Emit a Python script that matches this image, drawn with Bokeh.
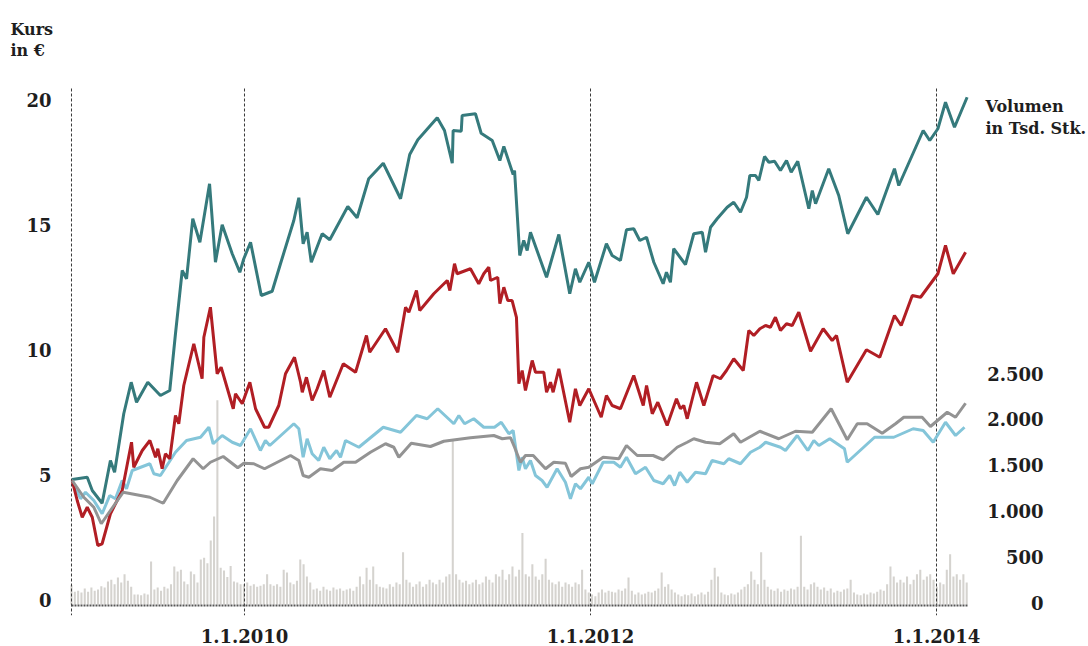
from bokeh.plotting import figure
from bokeh.models import Range1d, FixedTicker
from bokeh.core.properties import value
from bokeh.embed import file_html
from bokeh.resources import INLINE

# ---------------- data (x in decimal years, prices in EUR) ----------------
teal_t = [2009.004, 2009.091, 2009.120, 2009.177, 2009.225, 2009.249, 2009.302, 2009.345, 2009.376, 2009.441,
          2009.514, 2009.568, 2009.601, 2009.640, 2009.665, 2009.701, 2009.742, 2009.798, 2009.832, 2009.871,
          2009.929, 2009.973, 2009.996, 2010.035, 2010.097, 2010.160, 2010.208, 2010.285, 2010.314, 2010.339,
          2010.362, 2010.386, 2010.449, 2010.493, 2010.597, 2010.651, 2010.718, 2010.802, 2010.902, 2010.955,
          2011.002, 2011.114, 2011.156, 2011.201, 2011.206, 2011.253, 2011.258, 2011.335, 2011.368, 2011.432,
          2011.476, 2011.499, 2011.553, 2011.561, 2011.591, 2011.614, 2011.634, 2011.653, 2011.746, 2011.817,
          2011.880, 2011.913, 2011.938, 2011.990, 2012.023, 2012.092, 2012.125, 2012.173, 2012.208, 2012.250,
          2012.285, 2012.324, 2012.366, 2012.420, 2012.439, 2012.462, 2012.481, 2012.549, 2012.597, 2012.646,
          2012.665, 2012.694, 2012.732, 2012.790, 2012.828, 2012.867, 2012.902, 2012.921, 2012.954, 2012.973,
          2013.006, 2013.031, 2013.064, 2013.098, 2013.133, 2013.160, 2013.198, 2013.262, 2013.282, 2013.301,
          2013.377, 2013.435, 2013.487, 2013.595, 2013.661, 2013.757, 2013.782, 2013.923, 2013.961, 2014.008,
          2014.052, 2014.104, 2014.177]
teal_v = [4.80, 4.89, 4.36, 3.85, 5.56, 5.09, 7.43, 8.69, 7.89, 8.69,
          8.16, 8.36, 10.63, 13.16, 12.83, 15.23, 14.29, 16.63, 13.49, 14.99,
          13.83, 13.09, 13.63, 14.29, 12.16, 12.33, 13.43, 15.16, 16.07, 14.23,
          14.69, 13.49, 14.63, 14.39, 15.72, 15.27, 16.83, 17.45, 16.03, 17.80,
          18.39, 19.27, 18.76, 17.45, 18.76, 18.73, 19.36, 19.43, 18.65, 18.36,
          17.56, 18.12, 17.00, 17.16, 13.76, 14.36, 13.96, 14.69, 12.89, 14.60,
          12.23, 13.23, 12.69, 13.49, 12.69, 14.23, 13.76, 13.56, 14.79, 14.83,
          14.36, 14.49, 13.49, 12.63, 13.09, 12.69, 14.03, 13.40, 14.63, 14.69,
          13.89, 14.89, 15.23, 15.69, 15.89, 15.49, 16.09, 16.96, 16.96, 16.76,
          17.72, 17.49, 17.53, 17.16, 17.56, 17.09, 17.53, 15.63, 16.36, 15.83,
          17.23, 16.16, 14.63, 16.09, 15.40, 17.23, 16.56, 18.76, 18.36, 18.83,
          19.89, 18.89, 20.09]

red_t = [2009.004, 2009.033, 2009.062, 2009.091, 2009.120, 2009.152, 2009.177, 2009.225, 2009.293, 2009.347,
         2009.360, 2009.409, 2009.453, 2009.486, 2009.499, 2009.524, 2009.543, 2009.568, 2009.601, 2009.620,
         2009.649, 2009.707, 2009.755, 2009.765, 2009.803, 2009.842, 2009.865, 2009.935, 2009.948, 2009.987,
         2010.031, 2010.064, 2010.116, 2010.140, 2010.198, 2010.237, 2010.289, 2010.324, 2010.334, 2010.358,
         2010.391, 2010.420, 2010.458, 2010.493, 2010.571, 2010.642, 2010.705, 2010.724, 2010.815, 2010.886,
         2010.931, 2010.950, 2010.994, 2011.013, 2011.094, 2011.172, 2011.187, 2011.214, 2011.229, 2011.306,
         2011.354, 2011.383, 2011.412, 2011.422, 2011.464, 2011.476, 2011.499, 2011.522, 2011.547, 2011.572,
         2011.586, 2011.605, 2011.624, 2011.663, 2011.682, 2011.730, 2011.746, 2011.769, 2011.784, 2011.817,
         2011.880, 2011.913, 2011.938, 2011.990, 2012.062, 2012.092, 2012.125, 2012.173, 2012.250, 2012.305,
         2012.324, 2012.357, 2012.389, 2012.443, 2012.497, 2012.520, 2012.539, 2012.559, 2012.613, 2012.655,
         2012.709, 2012.751, 2012.786, 2012.828, 2012.883, 2012.915, 2012.944, 2012.979, 2013.012, 2013.040,
         2013.069, 2013.098, 2013.133, 2013.166, 2013.204, 2013.272, 2013.345, 2013.397, 2013.422, 2013.484,
         2013.595, 2013.672, 2013.757, 2013.796, 2013.860, 2013.908, 2014.008, 2014.052, 2014.097, 2014.168]
red_v = [4.76, 3.96, 3.29, 3.69, 3.29, 2.16, 2.23, 3.43, 4.36, 6.29,
         5.29, 5.96, 6.36, 5.69, 6.03, 5.23, 5.83, 5.63, 7.36, 7.03,
         8.56, 10.23, 8.83, 10.49, 11.69, 9.03, 9.29, 7.63, 8.23, 7.83,
         8.69, 7.63, 6.89, 6.89, 7.76, 9.03, 9.69, 8.69, 8.29, 8.89,
         7.96, 8.43, 9.16, 8.09, 9.43, 9.09, 10.56, 9.89, 10.83, 9.89,
         11.69, 11.49, 12.36, 11.56, 12.23, 12.76, 12.36, 13.43, 13.03, 13.23,
         12.63, 13.03, 13.29, 12.76, 12.89, 11.83, 12.49, 11.96, 11.96, 11.29,
         8.63, 9.16, 8.36, 9.56, 9.09, 9.09, 8.29, 8.69, 8.29, 9.23,
         7.09, 8.43, 7.76, 8.43, 7.29, 8.16, 7.76, 7.63, 8.96, 7.76,
         8.56, 7.43, 7.89, 6.96, 8.03, 7.63, 7.76, 7.23, 8.69, 7.76,
         8.96, 8.83, 9.16, 9.63, 9.16, 10.76, 10.56, 10.83, 10.96, 10.89,
         11.29, 10.76, 11.03, 10.96, 11.49, 9.93, 10.83, 10.36, 10.56, 8.69,
         9.99, 9.69, 11.36, 10.96, 12.16, 12.09, 13.03, 14.16, 13.03, 13.89]

blue_t = [2009.004, 2009.052, 2009.081, 2009.129, 2009.177, 2009.221, 2009.254, 2009.293, 2009.318, 2009.351,
          2009.453, 2009.476, 2009.514, 2009.601, 2009.665, 2009.746, 2009.794, 2009.819, 2009.871, 2009.929,
          2009.977, 2010.035, 2010.092, 2010.121, 2010.146, 2010.285, 2010.314, 2010.339, 2010.362, 2010.391,
          2010.429, 2010.458, 2010.493, 2010.532, 2010.555, 2010.584, 2010.661, 2010.802, 2010.902, 2010.994,
          2011.056, 2011.117, 2011.210, 2011.239, 2011.272, 2011.325, 2011.383, 2011.445, 2011.484, 2011.528,
          2011.553, 2011.586, 2011.605, 2011.624, 2011.653, 2011.682, 2011.720, 2011.749, 2011.807, 2011.855,
          2011.884, 2011.913, 2011.942, 2011.990, 2012.010, 2012.073, 2012.135, 2012.173, 2012.208, 2012.260,
          2012.318, 2012.366, 2012.420, 2012.458, 2012.486, 2012.516, 2012.559, 2012.607, 2012.665, 2012.703,
          2012.771, 2012.799, 2012.867, 2012.925, 2012.979, 2013.012, 2013.098, 2013.127, 2013.195, 2013.256,
          2013.291, 2013.320, 2013.383, 2013.468, 2013.484, 2013.642, 2013.753, 2013.865, 2013.923, 2013.981,
          2014.052, 2014.110, 2014.162]
blue_v = [4.76, 4.03, 4.29, 3.96, 3.43, 4.16, 4.03, 4.76, 4.43, 5.16,
          5.43, 5.03, 4.96, 5.89, 6.36, 6.49, 6.89, 6.23, 6.56, 6.29,
          6.16, 6.83, 5.96, 6.36, 6.16, 7.03, 6.83, 5.69, 6.43, 5.83,
          5.56, 6.09, 5.63, 5.96, 5.69, 6.36, 6.09, 6.89, 6.69, 7.36,
          7.23, 7.63, 7.03, 7.36, 7.03, 7.23, 6.89, 6.89, 7.09, 6.63,
          6.76, 5.16, 5.69, 5.23, 5.56, 4.96, 4.76, 4.49, 5.23, 4.69,
          4.03, 4.63, 4.43, 4.89, 4.63, 5.49, 5.49, 5.29, 5.69, 5.03,
          5.29, 4.76, 4.63, 4.96, 4.56, 5.09, 4.69, 5.09, 5.03, 5.56,
          5.43, 5.63, 5.43, 5.89, 6.09, 6.29, 6.09, 5.96, 6.56, 5.96,
          6.36, 6.16, 6.43, 6.03, 5.49, 6.49, 6.49, 6.83, 6.76, 6.29,
          7.09, 6.56, 6.89]

gray_t = [2009.004, 2009.071, 2009.129, 2009.172, 2009.225, 2009.299, 2009.453, 2009.530, 2009.611, 2009.703,
          2009.761, 2009.803, 2009.877, 2009.961, 2009.996, 2010.054, 2010.116, 2010.266, 2010.314, 2010.339,
          2010.372, 2010.439, 2010.507, 2010.574, 2010.642, 2010.728, 2010.815, 2010.863, 2010.892, 2010.964,
          2011.075, 2011.152, 2011.306, 2011.441, 2011.490, 2011.538, 2011.561, 2011.595, 2011.624, 2011.669,
          2011.740, 2011.788, 2011.855, 2011.888, 2011.942, 2011.990, 2012.073, 2012.164, 2012.208, 2012.270,
          2012.362, 2012.420, 2012.501, 2012.559, 2012.597, 2012.665, 2012.747, 2012.828, 2012.867, 2012.979,
          2013.088, 2013.185, 2013.282, 2013.391, 2013.484, 2013.542, 2013.599, 2013.686, 2013.763, 2013.811,
          2013.917, 2013.965, 2014.062, 2014.110, 2014.168]
gray_v = [4.76, 4.09, 3.69, 3.03, 3.56, 4.29, 4.09, 3.85, 4.76, 5.63,
          5.23, 5.49, 5.72, 5.27, 5.45, 5.43, 5.23, 5.76, 5.56, 4.96,
          4.89, 5.23, 5.16, 5.49, 5.49, 5.89, 6.23, 6.09, 5.69, 6.25,
          6.12, 6.33, 6.47, 6.56, 6.43, 6.47, 6.09, 5.49, 5.76, 5.76,
          5.23, 5.49, 5.45, 4.92, 5.23, 5.29, 5.69, 5.63, 6.16, 5.76,
          5.76, 5.59, 6.09, 6.29, 6.43, 6.29, 6.23, 6.63, 6.29, 6.73,
          6.43, 6.73, 6.69, 7.63, 6.39, 7.03, 7.03, 6.65, 7.03, 7.29,
          7.29, 6.92, 7.49, 7.29, 7.85]

# weekly trading volume in thousand shares, first week of January 2009 onwards
vol_start = 2009.0
vol_step = 7 / 365.25   # one week, in years
volume = [210, 140, 150, 130, 175, 140, 185, 150, 165, 200,
          185, 250, 270, 220, 295, 240, 330, 260, 195, 110,
          110, 100, 120, 110, 470, 165, 185, 150, 195, 175,
          220, 415, 360, 380, 250, 220, 360, 330, 240, 490,
          510, 450, 700, 960, 2230, 400, 370, 300, 420, 250,
          240, 220, 220, 240, 205, 220, 195, 205, 220, 330,
          220, 205, 220, 195, 380, 350, 240, 220, 260, 490,
          440, 305, 240, 165, 175, 150, 195, 165, 150, 185,
          165, 175, 150, 165, 175, 150, 195, 305, 220, 400,
          270, 415, 220, 195, 185, 175, 220, 195, 240, 220,
          570, 270, 240, 195, 220, 250, 195, 220, 270, 240,
          220, 270, 240, 305, 330, 1800, 330, 270, 240, 260,
          220, 240, 270, 220, 240, 305, 270, 240, 330, 305,
          380, 270, 330, 415, 305, 380, 780, 330, 305, 440,
          305, 270, 330, 500, 270, 240, 220, 250, 195, 240,
          220, 195, 240, 220, 380, 165, 130, 110, 90, 130,
          165, 130, 150, 140, 130, 165, 150, 175, 295, 150,
          110, 130, 110, 120, 140, 130, 150, 175, 350, 195,
          220, 165, 130, 110, 90, 110, 100, 120, 90, 110,
          130, 110, 140, 270, 400, 305, 130, 110, 100, 120,
          110, 130, 165, 195, 220, 360, 270, 220, 570, 270,
          195, 165, 150, 175, 140, 165, 150, 175, 165, 195,
          750, 195, 165, 220, 240, 195, 165, 185, 150, 175,
          130, 150, 140, 165, 175, 270, 130, 110, 100, 120,
          110, 130, 120, 140, 165, 150, 220, 415, 305, 240,
          270, 240, 305, 220, 270, 330, 380, 270, 305, 330,
          270, 195, 240, 220, 380, 550, 305, 330, 270, 330, 240]
vol_t = [vol_start + i * vol_step for i in range(len(volume))]

price_ticks = [0, 5, 10, 15, 20]
price_tick_labels = ["0", "5", "10", "15", "20"]
vol_ticks = [0, 500, 1000, 1500, 2000, 2500]
vol_tick_labels = ["0", "500", "1.000", "1.500", "2.000", "2.500"]
date_ticks = [2010, 2012, 2014]
date_tick_labels = ["1.1.2010", "1.1.2012", "1.1.2014"]
date_lines = [2009.0, 2010, 2012, 2014]
data_end = 2014.185

# ---------------- styling ----------------
FONT = "DejaVu Serif"
TXT = "#1e1e1e"
C_TEAL = "#357a7c"
C_RED = "#b11e24"
C_BLUE = "#84c5d9"
C_GRAY = "#939393"
C_VOL = "#d5d3cf"
C_DASH = "#3a3a3a"

# the plotting frame covers the whole picture above the date axis, so that all
# labels can be drawn as text inside it
p = figure(width=1088, height=646, output_backend="svg", toolbar_location=None,
           x_range=Range1d(2008.5896, 2014.8786), y_range=Range1d(-0.64, 23.96),
           y_axis_location=None,
           min_border_left=0, min_border_right=0, min_border_top=0, min_border_bottom=31,
           background_fill_color="white", border_fill_color="white")
p.outline_line_color = None
p.grid.visible = False
p.extra_y_ranges = {"vol": Range1d(-120, 6594)}

# date axis
ax = p.xaxis[0]
ax.ticker = FixedTicker(ticks=date_ticks)
ax.major_label_overrides = {t: s for t, s in zip(date_ticks, date_tick_labels)}
ax.axis_line_color = None
ax.major_tick_line_color = None
ax.minor_tick_line_color = None
ax.major_label_text_font = FONT
ax.major_label_text_font_style = "bold"
ax.major_label_text_font_size = "18px"
ax.major_label_text_color = TXT
ax.major_label_standoff = 7

# volume bars
p.vbar(x=vol_t, top=volume, bottom=0, width=vol_step * 0.62, y_range_name="vol",
       fill_color=C_VOL, line_color=None)

# vertical dashed date lines (from the top of the price area to the bottom of the frame)
p.segment(x0=date_lines, x1=date_lines, y0=[20.44] * len(date_lines), y1=[-0.64] * len(date_lines),
          line_color=C_DASH, line_dash="3 2", line_width=1)
# dotted base line
p.segment(x0=[2009.0], x1=[data_end], y0=[-0.24], y1=[-0.24],
          line_color="#555555", line_dash="2 1", line_width=2)

# price lines
p.line(teal_t, teal_v, line_color=C_TEAL, line_width=3)
p.line(blue_t, blue_v, line_color=C_BLUE, line_width=3)
p.line(red_t, red_v, line_color=C_RED, line_width=3)
p.line(gray_t, gray_v, line_color=C_GRAY, line_width=3)

txt = dict(text_font=value(FONT), text_font_style="bold", text_color=TXT)

# price axis labels (left)
p.text(x=[2008.8844] * len(price_ticks), y=price_ticks, text=price_tick_labels,
       text_align="right", text_baseline="middle", text_font_size="18px", **txt)
# volume axis labels (right)
p.text(x=[2014.6185] * len(vol_ticks), y=vol_ticks, text=vol_tick_labels, y_range_name="vol",
       text_align="right", text_baseline="middle", text_font_size="18px", y_offset=-2, **txt)
# axis titles
p.text(x=[2008.6474, 2008.6474], y=[22.8, 21.96], text=["Kurs", "in €"],
       text_align="left", text_baseline="alphabetic", text_font_size="16px", **txt)
p.text(x=[2014.283, 2014.283], y=[19.72, 18.84], text=["Volumen", "in Tsd. Stk."],
       text_align="left", text_baseline="alphabetic", text_font_size="16px", **txt)

open("out.html", "w").write(file_html(p, INLINE))
